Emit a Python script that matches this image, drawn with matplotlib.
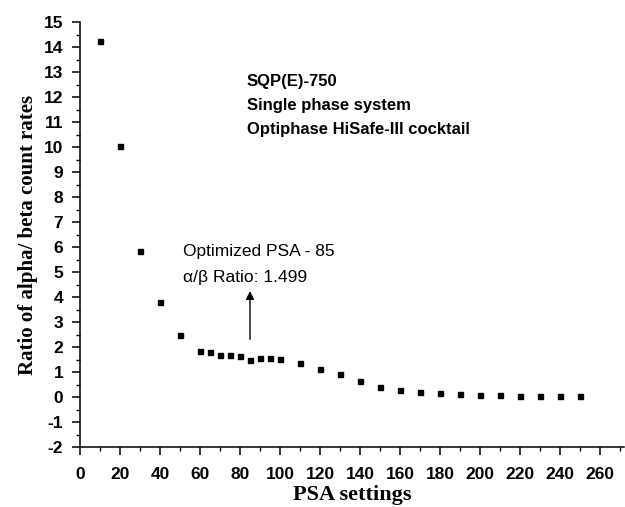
import matplotlib
matplotlib.use('Agg')
import matplotlib.pyplot as plt
from matplotlib.ticker import MultipleLocator

# PSA setting vs alpha/beta count-rate ratio
psa = [10, 20, 30, 40, 50, 60, 65, 70, 75, 80, 85, 90, 95, 100,
       110, 120, 130, 140, 150, 160, 170, 180, 190, 200, 210, 220,
       230, 240, 250]
ratio = [14.25, 10.05, 5.84, 3.82, 2.48, 1.83, 1.81, 1.68, 1.67, 1.63,
         1.499, 1.55, 1.58, 1.52, 1.38, 1.14, 0.92, 0.63, 0.39, 0.27,
         0.20, 0.15, 0.11, 0.08, 0.07, 0.06, 0.05, 0.05, 0.05]

info_lines = ['SQP(E)-750', 'Single phase system',
              'Optiphase HiSafe-III cocktail']
opt_psa = 85

SANS = 'Liberation Sans'
SERIF = 'Liberation Serif'

plt.rcParams['axes.unicode_minus'] = False

fig = plt.figure(figsize=(6.25, 5.07), dpi=100)
ax = fig.add_axes([0.128, 0.1183, 0.8704, 0.8383])

ax.plot(psa, ratio, 's', color='black', markersize=3.6)

ax.set_xlim(0, 272)
ax.set_ylim(-2, 15)
ax.xaxis.set_major_locator(MultipleLocator(20))
ax.xaxis.set_minor_locator(MultipleLocator(10))
ax.yaxis.set_major_locator(MultipleLocator(1))
ax.yaxis.set_minor_locator(MultipleLocator(0.5))

for side in ['top', 'right']:
    ax.spines[side].set_visible(False)
for side in ['left', 'bottom']:
    ax.spines[side].set_linewidth(1.1)

ax.tick_params(which='major', direction='out', length=5.5, width=1.1)
ax.tick_params(which='minor', direction='out', length=2.6, width=1.0)
ax.tick_params(axis='x', which='major', pad=9)
ax.tick_params(axis='y', which='major', pad=6.5)
for lbl in ax.get_xticklabels() + ax.get_yticklabels():
    lbl.set_fontfamily(SANS)
    lbl.set_fontweight('bold')
    lbl.set_fontsize(12.5)

ax.set_xlabel('PSA settings', fontfamily=SERIF, fontweight='bold',
              fontsize=16, labelpad=2)
ax.set_ylabel('Ratio of alpha/ beta count rates', fontfamily=SERIF,
              fontweight='bold', fontsize=15, labelpad=4)

# info box text
for i, line in enumerate(info_lines):
    ax.text(83.3, 12.43 - i * 0.96, line, fontfamily=SANS,
            fontweight='bold', fontsize=12)

# optimized PSA annotation
ax.text(51.5, 5.63, f'Optimized PSA - {opt_psa}', fontfamily=SANS, fontsize=12.5)
ax.text(51.5, 4.59, '\u03b1/\u03b2 Ratio: 1.499', fontfamily=SANS, fontsize=12.5)
ax.annotate('', xy=(opt_psa, 4.35), xytext=(opt_psa, 2.2),
            arrowprops=dict(arrowstyle='-|>', color='black', lw=1,
                            mutation_scale=12))

fig.savefig('out.png', dpi=100)
